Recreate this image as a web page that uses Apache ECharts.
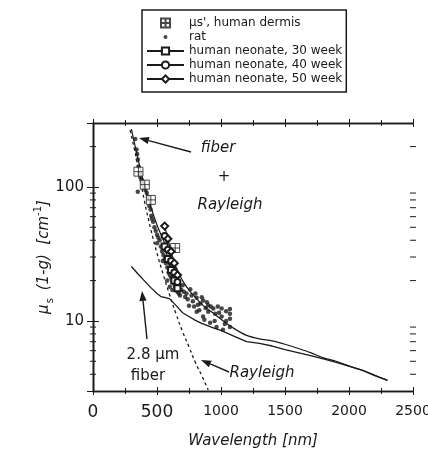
<!DOCTYPE html>
<html>
<head>
<meta charset="utf-8">
<script src="https://cdn.jsdelivr.net/npm/echarts@6/dist/echarts.min.js"></script>
<style>
  html, body { margin: 0; padding: 0; background: #fff; }
  #chart { width: 428px; height: 462px; }
</style>
</head>
<body>
<div id="chart"></div>
<script>
// ---- data (wavelength nm, mu_s' cm^-1) ----
const dermis = [[355, 130], [405, 104], [452, 80], [642, 35]];

const rat = [
  [330, 228], [340, 190], [345, 176], [350, 160], [355, 142], [360, 126], [350, 92],
  [370, 118], [380, 112], [390, 107], [400, 99], [410, 95], [420, 90], [430, 84],
  [440, 72], [450, 68], [455, 61], [460, 58], [470, 55], [480, 50], [490, 47],
  [500, 38], [500, 44], [510, 42], [520, 40], [530, 36], [540, 33], [545, 28],
  [550, 31], [560, 29], [570, 27], [580, 25], [590, 23], [600, 22], [610, 21],
  [620, 20], [630, 19], [640, 18], [650, 17], [660, 16.5], [670, 16], [680, 15.5],
  [560, 35], [580, 30], [600, 27], [620, 25], [640, 23], [650, 21], [660, 19],
  [670, 18], [690, 17], [600, 18], [620, 17], [580, 20], [610, 26], [630, 22],
  [700, 18.5], [710, 16.5], [720, 15.1], [730, 16], [740, 14.5], [750, 13], [760, 17.2],
  [770, 15.5], [780, 14], [790, 12.8], [800, 16], [810, 14.9], [810, 11.7], [820, 13.2],
  [830, 12], [840, 13.5], [850, 15], [860, 14.2], [860, 10.8], [870, 10.2], [880, 12.5],
  [890, 13.8], [900, 13.1], [900, 11.7], [915, 9.7], [920, 12.8], [940, 12.4],
  [950, 10], [955, 11.3], [965, 9], [975, 12.8], [985, 11.5], [1005, 12.4], [1005, 10.8],
  [1015, 8.6], [1030, 9.5], [1040, 10], [1040, 11.8], [1070, 12.3], [1070, 11.3],
  [1070, 10.4], [1070, 9.0]
];

const neonate30 = [[560, 36], [585, 29], [610, 24], [635, 20], [660, 17.5]];
const neonate40 = [[560, 43], [585, 34], [610, 28], [635, 23], [660, 19.5]];
const neonate50 = [[560, 51], [585, 41], [610, 33], [635, 27], [660, 22]];

const fiber = [
  [300, 25.5], [350, 22.5], [400, 20], [450, 17.8], [500, 16], [530, 15.2], [560, 15],
  [600, 14.6], [650, 13], [700, 11.5], [750, 10.8], [800, 10.1], [850, 9.6], [900, 9.2],
  [950, 8.8], [1000, 8.5], [1100, 7.7], [1200, 7.0], [1300, 6.8], [1400, 6.5],
  [1500, 6.1], [1600, 5.8], [1700, 5.5], [1800, 5.2], [1900, 4.9], [2000, 4.6],
  [2100, 4.3], [2200, 3.9], [2300, 3.6]
];

const fiberRayleigh = [
  [300, 270], [330, 200], [360, 150], [400, 105], [450, 72], [500, 52], [550, 40],
  [600, 31], [650, 25], [700, 20], [750, 17], [800, 15], [850, 13.3], [900, 12.2],
  [1000, 10.3], [1100, 8.8], [1200, 7.8], [1300, 7.35], [1400, 7.1], [1500, 6.7],
  [1600, 6.25], [1700, 5.8], [1800, 5.3], [1900, 5.0], [2000, 4.6], [2100, 4.3],
  [2200, 3.95], [2300, 3.6]
];

const rayleigh = [
  [290, 265], [350, 145], [400, 80], [450, 49], [500, 32], [550, 22], [600, 15.5],
  [650, 11.2], [700, 8.3], [750, 6.4], [800, 4.9], [850, 3.9], [900, 3.05]
];

const yMinorTicks = [4, 5, 6, 7, 8, 9, 20, 30, 40, 50, 60, 70, 80, 90, 200];
const yLabels = [10, 100];
const bigXLabels = [0, 500];

const legendNames = [
  "\u03bcs', human dermis",
  'rat',
  'human neonate, 30 week',
  'human neonate, 40 week',
  'human neonate, 50 week'
];

const INK = '#1a1a1a';
const FONT = 'DejaVu Sans';

function xAx(position, inside, labels) {
  return {
    type: 'value', position: position, min: 0, max: 2500, interval: 500,
    axisLine: { show: true, lineStyle: { color: INK, width: 1.3 } },
    axisTick: { show: true, inside: inside, length: 4, lineStyle: { color: INK, width: 1 } },
    minorTick: { show: true, splitNumber: 2, length: 3, lineStyle: { color: INK, width: 1 } },
    splitLine: { show: false },
    axisLabel: labels ? {
      show: true, margin: 13, color: INK, fontFamily: FONT, fontSize: 14,
      formatter: v => bigXLabels.includes(v) ? '{b|' + v + '}' : String(v),
      rich: { b: { fontSize: 17, fontFamily: FONT, color: INK } }
    } : { show: false },
    name: labels ? 'Wavelength [nm]' : '',
    nameLocation: 'middle', nameGap: 43, nameMoveOverlap: false,
    nameTextStyle: { fontStyle: 'italic', fontSize: 15, fontFamily: FONT, color: INK }
  };
}

function yAx(position, inside, labels) {
  return {
    type: 'log', logBase: 10, position: position, min: 3, max: 300,
    axisLine: { show: true, lineStyle: { color: INK, width: 1.3 } },
    axisTick: { show: true, inside: inside, length: 6, lineStyle: { color: INK, width: 1 } },
    splitLine: { show: false },
    axisLabel: labels ? {
      show: true, margin: 9, color: INK, fontFamily: FONT, fontSize: 15,
      formatter: v => yLabels.includes(Math.round(v)) ? String(Math.round(v)) : ''
    } : { show: false },
    name: labels ? '{i|\u03bc}{sub|s}{i| (1-g)  [cm}{sup|-1}{i|]}' : '',
    nameLocation: 'middle', nameGap: 38, nameMoveOverlap: false,
    nameTextStyle: {
      rich: {
        i: { fontStyle: 'italic', fontSize: 15, fontFamily: FONT, color: INK, lineHeight: 22 },
        sub: { fontSize: 10, fontFamily: FONT, color: INK, verticalAlign: 'bottom', lineHeight: 10, padding: [0, 3, 0, 1] },
        sup: { fontSize: 10, fontFamily: FONT, color: INK, verticalAlign: 'top', lineHeight: 10 }
      }
    }
  };
}

function arrow(x1, y1, x2, y2) {
  const a = Math.atan2(y2 - y1, x2 - x1);
  const L = 10, W = 3.6;
  const bx = x2 - L * Math.cos(a), by = y2 - L * Math.sin(a);
  const px = -Math.sin(a) * W, py = Math.cos(a) * W;
  return [
    { type: 'line', shape: { x1: x1, y1: y1, x2: bx, y2: by }, style: { stroke: INK, lineWidth: 1.4 } },
    { type: 'polygon', shape: { points: [[x2, y2], [bx + px, by + py], [bx - px, by - py]] }, style: { fill: INK } }
  ];
}

function label(text, x, y, italic) {
  return {
    type: 'text', x: x, y: y,
    style: {
      text: text, fill: INK, align: 'center', verticalAlign: 'middle',
      font: (italic ? 'italic ' : '') + '15px "DejaVu Sans"'
    }
  };
}

const chart = echarts.init(document.getElementById('chart'));

chart.setOption({
  backgroundColor: '#fff',
  animation: false,
  grid: { left: 93, right: 15, top: 123, bottom: 71, outerBoundsMode: 'none', containLabel: false },
  xAxis: [xAx('bottom', false, true), xAx('bottom', true, false), xAx('top', false, false), xAx('top', true, false)],
  yAxis: [yAx('left', false, true), yAx('left', true, false), yAx('right', false, false), yAx('right', true, false)],
  legend: {
    orient: 'vertical', left: 142, top: 10,
    data: [
      { name: legendNames[0] },
      { name: legendNames[1], icon: 'path://M0,0M9,9M2.5,4.5A2,2,0,1,1,6.5,4.5A2,2,0,1,1,2.5,4.5Z' },
      { name: legendNames[2] }, { name: legendNames[3] }, { name: legendNames[4] }
    ],
    itemWidth: 37, itemHeight: 9, itemGap: 2,
    padding: [7, 4, 7, 4],
    borderColor: INK, borderWidth: 1.5, borderRadius: 0,
    textStyle: { color: INK, fontFamily: FONT, fontSize: 12 },
    selectedMode: false
  },
  graphic: [
    label('fiber', 218, 148, true),
    label('+', 224, 177, false),
    label('Rayleigh', 230, 205, true),
    label('2.8 \u03bcm', 153, 355, false),
    label('fiber', 148, 376, false),
    label('Rayleigh', 262, 373, true)
  ].concat(arrow(191, 152, 139, 138), arrow(147, 339, 142, 291), arrow(229, 372, 201, 360)),
  series: [
    {
      name: 'fiber', type: 'line', data: fiber, symbol: 'none', smooth: false,
      lineStyle: { color: INK, width: 1.3 }, z: 2
    },
    {
      name: 'fiber + Rayleigh', type: 'line', data: fiberRayleigh, symbol: 'none', smooth: 0.3,
      lineStyle: { color: INK, width: 1.2 }, z: 2
    },
    {
      name: 'Rayleigh', type: 'line', data: rayleigh, symbol: 'none', smooth: true,
      lineStyle: { color: INK, width: 1.3, type: [3, 3] }, z: 2
    },
    {
      name: legendNames[1], type: 'scatter', data: rat, symbol: 'circle', symbolSize: 4.5,
      itemStyle: { color: INK }, z: 3
    },
    {
      name: legendNames[0], type: 'scatter', data: dermis,
      symbol: 'path://M0,0H10V10H0Z M5,0V10 M0,5H10', symbolSize: 9,
      itemStyle: { color: '#fff', borderColor: INK, borderWidth: 1 }, z: 4
    },
    {
      name: legendNames[2], type: 'line', data: neonate30, symbol: 'emptyRect', symbolSize: 6,
      itemStyle: { color: INK, borderWidth: 1 }, lineStyle: { color: INK, width: 1.2 }, z: 4
    },
    {
      name: legendNames[3], type: 'line', data: neonate40, symbol: 'emptyCircle', symbolSize: 6,
      itemStyle: { color: INK, borderWidth: 1 }, lineStyle: { color: INK, width: 1.2 }, z: 4
    },
    {
      name: legendNames[4], type: 'line', data: neonate50, symbol: 'emptyDiamond', symbolSize: 7,
      itemStyle: { color: INK, borderWidth: 1 }, lineStyle: { color: INK, width: 1.2 }, z: 4
    },
    {
      // minor ticks of the log axis at 2..9 x 10^k, crossing left and right frame
      name: 'yMinor', type: 'custom', silent: true, z: 5,
      data: yMinorTicks.map(v => [0, v]),
      renderItem: function (params, api) {
        const v = api.value(1);
        const l = api.coord([0, v]);
        const r = api.coord([2500, v]);
        const st = { stroke: INK, lineWidth: 1 };
        return {
          type: 'group',
          children: [
            { type: 'line', shape: { x1: l[0] - 3, y1: l[1], x2: l[0] + 3, y2: l[1] }, style: st },
            { type: 'line', shape: { x1: r[0] - 3, y1: r[1], x2: r[0] + 3, y2: r[1] }, style: st }
          ]
        };
      }
    }
  ]
});
</script>
</body>
</html>
